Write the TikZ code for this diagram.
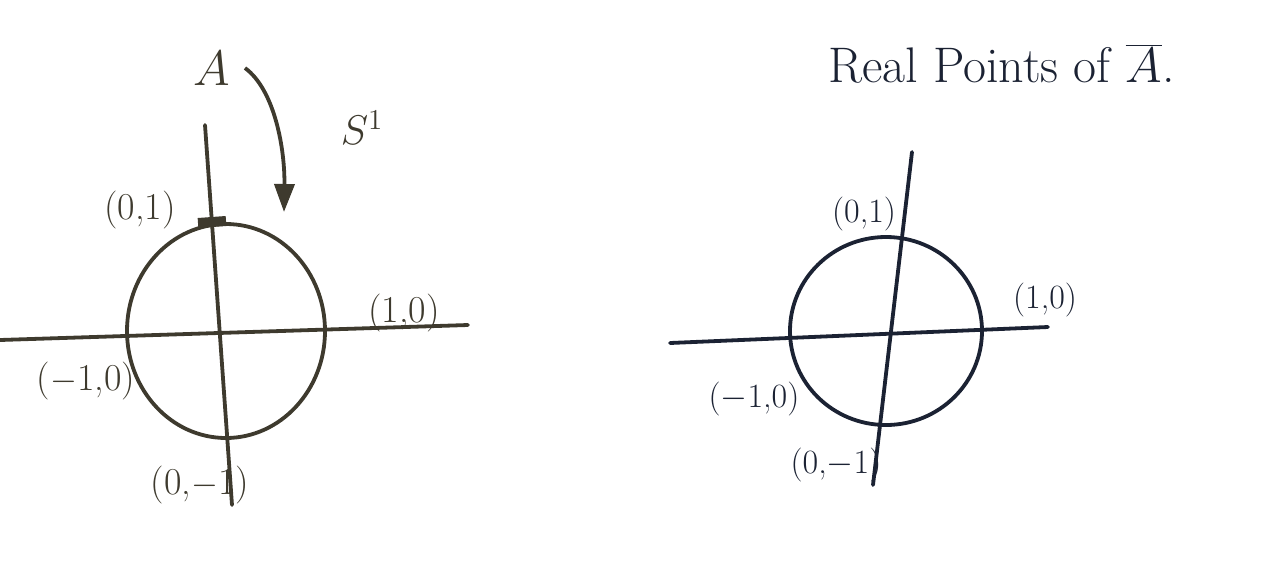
\documentclass[tikz,border=0pt]{standalone}
\usetikzlibrary{arrows.meta}
\definecolor{pencil}{HTML}{3E3A2E}
\definecolor{ink}{HTML}{1B2233}
\tikzset{
  leftline/.style={draw=pencil, line width=1.9pt, line cap=round},
  rightline/.style={draw=ink, line width=1.9pt, line cap=round},
  leftlab/.style={text=pencil, font=\fontsize{19}{22}\selectfont, inner sep=1pt},
  rightlab/.style={text=ink, font=\fontsize{17}{20}\selectfont, inner sep=1pt},
}
\begin{document}
\begin{tikzpicture}[x=0.5pt,y=-0.5pt]
\useasboundingbox (0,0) rectangle (1280,580);
% ---------- left diagram ----------
\coordinate (lvt) at (205,125);
\coordinate (lvb) at (232,505);
\coordinate (lhl) at (0,340);
\coordinate (lhr) at (468,325);
\draw[leftline] (lvt) -- (lvb);
\draw[leftline] (lhl) -- (lhr);
\draw[leftline] (226,331) ellipse [x radius=99, y radius=107];
\draw[pencil, line width=5pt] (198,223) -- (226,221);
\node[leftlab] (l01) at (140,210) {(0,1)};
\node[leftlab] (l10) at (404,313) {(1,0)};
\node[leftlab] (lm10) at (86,381) {($-$1,0)};
\node[leftlab] (l0m1) at (200,485) {(0,$-$1)};
\node[text=pencil, font=\fontsize{30}{34}\selectfont, inner sep=1pt] (A) at (212,68) {$A$};
\node[text=pencil, font=\fontsize{22}{26}\selectfont, inner sep=1pt] (S) at (362,128) {$S^1$};
\coordinate (arrEnd) at (284,212);
\draw[pencil, line width=1.9pt, -{Triangle[length=14pt,width=10pt]}] (245,68) .. controls (275,90) and (285,150) .. (arrEnd);
% ---------- right diagram ----------
\coordinate (rvt) at (912,152);
\coordinate (rvb) at (873,485);
\coordinate (rhl) at (670,343);
\coordinate (rhr) at (1048,327);
\draw[rightline] (rvt) -- (rvb);
\draw[rightline] (rhl) -- (rhr);
\draw[rightline] (886,331) ellipse [x radius=96, y radius=94];
\node[rightlab] (r01) at (864,214) {(0,1)};
\node[rightlab] (r10) at (1045,300) {(1,0)};
\node[rightlab] (rm10) at (754,399) {($-$1,0)};
\node[rightlab] (r0m1) at (836,465) {(0,$-$1)};
\node[text=ink, font=\fontsize{25}{29}\selectfont, inner sep=1pt, anchor=west] (title) at (826,64) {Real Points of $\overline{A}$.};
\end{tikzpicture}
\end{document}
